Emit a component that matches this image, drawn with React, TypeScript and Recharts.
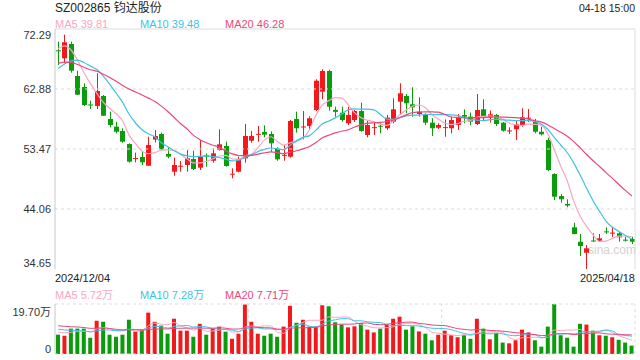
import React from "react";
import { Bar, Cell, ComposedChart, Line, ReferenceLine, XAxis, YAxis } from "recharts";

const RED = "#f2191c";
const GREEN = "#0b9c0b";
const MA5_C = "#f9a6c2";
const MA10_C = "#3ec4e2";
const MA20_C = "#e8487e";
const FONT = '"Liberation Sans", Arial, "Noto Sans CJK SC", sans-serif';

// daily candles 2024/12/04 .. 2025/04/18 (90 sessions)
const opens = [
  68.95, 67.69, 69.94, 64.92, 63.19, 60.45, 60.21, 61.78, 58.17, 56.98,
  56.29, 54.25, 51.95, 52.22, 50.85, 54.95, 55.82, 52.7, 49.91, 50.75,
  50.96, 51.9, 50.54, 52.48, 51.63, 53.31, 53.94, 49.5, 49.91, 52.01,
  54.77, 55.75, 56.14, 55.82, 53.47, 52.48, 52.27, 58.17, 56.92, 57.08,
  59.59, 62.46, 65.7, 59.6, 59.16, 57.5, 58.02, 59.43, 55.67, 56.82,
  57.12, 56.72, 57.76, 60.89, 61.78, 60.48, 58.96, 58.8, 57.6, 56.8,
  56.82, 56.72, 57.23, 58.8, 58.54, 57.39, 59.7, 58.4, 58.8, 57.6,
  56.3, 56.56, 57.23, 58.28, 57.76, 56.18, 54.88, 49.55, 46.1, 44.85,
  41.19, 38.93, 37.2, 39.12, 39.08, 40.55, 40.3, 40.25, 39.25, 39.35,
];
const highs = [
  70.3, 71.4, 70.3, 65.75, 63.77, 61.05, 65.34, 61.94, 59.32, 57.72,
  56.72, 54.36, 52.89, 53.05, 55.4, 56.45, 56.03, 53.74, 52.11, 51.59,
  53.31, 53.2, 54.88, 52.79, 53.58, 56.56, 54.62, 50.44, 52.27, 57.39,
  56.29, 57.08, 57.18, 56.24, 53.74, 54.1, 58.02, 59.32, 59.42, 58.6,
  64.4, 65.97, 65.9, 60.1, 60.1, 60.1, 59.6, 60.73, 58.02, 57.76,
  57.5, 58.8, 61.42, 63.77, 62.1, 63.15, 61.58, 59.07, 58.29, 57.5,
  58.12, 58.54, 58.96, 59.7, 59.2, 62.1, 61.27, 59.5, 58.96, 57.7,
  56.87, 57.9, 59.85, 59.74, 58.2, 56.97, 55.24, 49.66, 46.41, 45.58,
  41.9, 40.14, 38.41, 40.25, 40.14, 41.19, 41.19, 40.5, 39.7, 39.7,
];
const lows = [
  66.64, 66.91, 65.44, 61.94, 60.21, 59.74, 59.74, 58.65, 56.87, 55.92,
  54.46, 51.32, 51.38, 50.96, 50.8, 54.5, 53.31, 52.01, 49.28, 49.91,
  49.91, 50.17, 50.17, 50.7, 51.32, 53.2, 50.7, 48.87, 49.8, 51.32,
  54.46, 54.61, 55.3, 53.05, 51.63, 51.63, 52.1, 56.03, 54.98, 56.45,
  59.43, 61.27, 59.48, 58.54, 57.76, 57.23, 57.7, 56.18, 55.3, 55.67,
  55.93, 56.45, 57.5, 58.8, 59.07, 58.54, 58.54, 57.23, 55.51, 56.6,
  55.4, 55.93, 56.45, 57.5, 57.2, 57.23, 58.02, 57.6, 57.08, 56.2,
  55.82, 54.88, 56.97, 57.7, 55.93, 55.6, 50.0, 45.47, 45.05, 44.33,
  40.1, 36.69, 34.65, 38.93, 38.9, 40.14, 39.7, 38.93, 38.93, 38.57,
];
const closes = [
  68.85, 70.2, 65.75, 61.99, 60.37, 60.3, 62.57, 58.69, 57.23, 56.18,
  54.62, 51.48, 52.05, 51.38, 54.1, 55.5, 53.42, 52.27, 50.96, 50.85,
  52.01, 50.33, 52.27, 52.27, 52.79, 54.2, 50.8, 49.6, 51.9, 55.51,
  55.51, 55.85, 55.72, 54.36, 51.85, 52.55, 57.86, 56.72, 57.0, 58.29,
  64.18, 65.7, 60.1, 59.3, 58.02, 58.8, 59.43, 56.29, 57.23, 56.9,
  57.05, 58.38, 59.7, 62.2, 60.64, 60.01, 59.32, 57.6, 56.72, 57.23,
  56.9, 58.02, 58.44, 58.54, 57.76, 59.59, 58.54, 58.9, 57.39, 56.34,
  56.38, 57.34, 58.44, 58.38, 56.18, 55.77, 50.17, 45.99, 45.58, 44.6,
  40.14, 38.26, 37.9, 39.05, 39.46, 40.5, 40.36, 39.62, 39.2, 38.93,
];
// volume, 万手
const volumes = [
  7.6, 7.2, 10.0, 10.0, 10.0, 6.4, 13.1, 12.7, 7.6, 6.8,
  7.6, 13.5, 8.9, 9.6, 16.3, 12.7, 11.2, 8.0, 13.9, 9.2,
  9.2, 6.8, 11.9, 7.6, 10.0, 10.8, 8.8, 6.0, 8.0, 19.5,
  12.7, 8.0, 7.2, 8.0, 6.8, 10.8, 19.0, 12.3, 13.5, 10.8,
  10.8, 19.2, 18.8, 12.5, 11.6, 10.5, 10.9, 12.2, 9.6, 8.5,
  10.0, 11.6, 13.9, 14.7, 9.6, 10.9, 8.9, 8.0, 5.4, 7.6,
  9.2, 7.4, 6.6, 7.4, 6.0, 13.9, 10.0, 5.8, 8.3, 4.5,
  4.2, 5.4, 9.6, 8.5, 5.4, 2.9, 10.8, 19.7, 7.4, 6.4,
  2.9, 11.9, 11.6, 9.2, 7.4, 7.2, 6.6, 5.6, 4.5, 3.3,
];
// sessions before the window, only feeding the moving averages
const prevCloses = [66, 67, 68.5, 69, 68, 67.5, 68, 67.5, 68, 67.5, 63, 61, 60.9, 64, 66, 68, 69, 70, 70.2];
const prevVolumes = [12, 13, 12, 14, 13, 12, 11, 12, 13, 13, 10, 11, 12, 11, 10, 9, 9, 8, 10];

const priceTicks = [34.65, 44.06, 53.47, 62.88, 72.29];
const volTicks = [0, 19.7];
const dateLabels = ["2024/12/04", "2025/04/18"];
const priceLegend = [
  { name: "MA5", value: "39.81", color: MA5_C, left: 55 },
  { name: "MA10", value: "39.48", color: MA10_C, left: 140 },
  { name: "MA20", value: "46.28", color: MA20_C, left: 225 },
];
const volLegend = [
  { name: "MA5", value: "5.72万", color: MA5_C, left: 55 },
  { name: "MA10", value: "7.28万", color: MA10_C, left: 140 },
  { name: "MA20", value: "7.71万", color: MA20_C, left: 225 },
];

const LEAD = prevCloses.length;
function movingAvg(all: number[], n: number) {
  return closes.map((_, k) => {
    let s = 0;
    for (let j = k + LEAD - n + 1; j <= k + LEAD; j++) s += all[j];
    return s / n;
  });
}
const allC = [...prevCloses, ...closes];
const allV = [...prevVolumes, ...volumes];
const ma5 = movingAvg(allC, 5), ma10 = movingAvg(allC, 10), ma20 = movingAvg(allC, 20);
const vma5 = movingAvg(allV, 5), vma10 = movingAvg(allV, 10), vma20 = movingAvg(allV, 20);

const rows = closes.map((c, i) => ({
  i, o: opens[i], h: highs[i], l: lows[i], c,
  range: [lows[i], highs[i]],
  ma5: ma5[i], ma10: ma10[i], ma20: ma20[i],
  v: volumes[i], up: c >= opens[i],
  vma5: vma5[i], vma10: vma10[i], vma20: vma20[i],
}));

function Candle(props: any) {
  const { x, y, width, height, payload } = props;
  const { o, h, l, c } = payload;
  const top = Math.min(y, y + height);
  const span = Math.abs(height);
  const k = h > l ? span / (h - l) : 0;
  const py = (v: number) => top + (h - v) * k;
  const color = c >= o ? RED : GREEN;
  const bx = Math.round(x);
  const bTop = py(Math.max(o, c));
  const bBot = py(Math.min(o, c));
  return (
    <g>
      <line x1={bx + 2.5} x2={bx + 2.5} y1={top} y2={top + span} stroke={color} strokeWidth={1} />
      <rect x={bx} y={bTop} width={5} height={Math.max(1, bBot - bTop)} fill={color} />
    </g>
  );
}

function PriceTick({ x, y, payload }: any) {
  const v = payload.value;
  const dy = v === priceTicks[priceTicks.length - 1] ? 6 : v === priceTicks[0] ? -6 : 0;
  return (
    <text x={x} y={y + dy} dy={4} textAnchor="end" fontSize={11} fill="#333" fontFamily={FONT}>
      {v.toFixed(2)}
    </text>
  );
}

function VolTick({ x, y, payload }: any) {
  const v = payload.value;
  const top = v === volTicks[volTicks.length - 1];
  return (
    <text x={x} y={y + (top ? 8 : -5)} dy={4} textAnchor="end" fontSize={11} fill="#333" fontFamily={FONT}>
      {top ? `${v.toFixed(2)}万` : "0"}
    </text>
  );
}

const txt = (extra: React.CSSProperties): React.CSSProperties => ({
  position: "absolute", fontSize: 11, lineHeight: "12px", whiteSpace: "nowrap", ...extra,
});

export default function App() {
  const grid = "#dcdcdc";
  return (
    <div style={{ position: "absolute", left: 0, top: 0, width: 640, height: 360, background: "#fff", fontFamily: FONT, overflow: "hidden" }}>
      <div style={txt({ left: 55, top: 1, fontSize: 12, lineHeight: "14px", color: "#222" })}>SZ002865 钧达股份</div>
      <div style={txt({ right: 5, top: 2, fontSize: 10.5, color: "#222" })}>04-18 15:00</div>
      {priceLegend.map((m) => (
        <div key={m.name} style={txt({ left: m.left, top: 18, color: m.color })}>{m.name} {m.value}</div>
      ))}
      <div style={txt({ left: 588, top: 244, fontSize: 12, color: "#d2d2d2" })}>sina.com</div>

      <div style={{ position: "absolute", left: 0, top: 0 }}>
        <ComposedChart width={640} height={270} data={rows} margin={{ top: 29, right: 5, bottom: 1, left: 0 }}>
          <XAxis type="number" dataKey="i" domain={[-0.5, 89.5]} hide />
          <YAxis
            domain={[priceTicks[0], priceTicks[priceTicks.length - 1]]}
            ticks={priceTicks}
            interval={0}
            allowDataOverflow
            width={55}
            tickSize={0}
            tickMargin={4}
            tickLine={false}
            axisLine={{ stroke: "#c8c8c8" }}
            tick={<PriceTick />}
          />
          {priceTicks.slice(1, -1).map((t) => (
            <ReferenceLine key={t} y={t} stroke={grid} strokeDasharray="3 3" />
          ))}
          <ReferenceLine y={priceTicks[priceTicks.length - 1]} stroke={grid} />
          <ReferenceLine x={89.5} stroke={grid} />
          <Bar dataKey="range" barSize={5} shape={<Candle />} isAnimationActive={false} />
          <Line type="monotone" dataKey="ma5" stroke={MA5_C} strokeWidth={1.2} dot={false} isAnimationActive={false} />
          <Line type="monotone" dataKey="ma10" stroke={MA10_C} strokeWidth={1.2} dot={false} isAnimationActive={false} />
          <Line type="monotone" dataKey="ma20" stroke={MA20_C} strokeWidth={1.2} dot={false} isAnimationActive={false} />
        </ComposedChart>
      </div>

      <div style={txt({ left: 55, top: 272, color: "#222" })}>{dateLabels[0]}</div>
      <div style={txt({ right: 5, top: 272, color: "#222" })}>{dateLabels[1]}</div>
      {volLegend.map((m) => (
        <div key={m.name} style={txt({ left: m.left, top: 289, color: m.color })}>{m.name} {m.value}</div>
      ))}

      <div style={{ position: "absolute", left: 0, top: 300 }}>
        <ComposedChart width={640} height={60} data={rows} margin={{ top: 4, right: 5, bottom: 6, left: 0 }}>
          <XAxis type="number" dataKey="i" domain={[-0.5, 89.5]} hide />
          <YAxis
            domain={[0, 19.7]}
            ticks={volTicks}
            interval={0}
            allowDataOverflow
            width={55}
            tickSize={0}
            tickMargin={4}
            tickLine={false}
            axisLine={{ stroke: "#c8c8c8" }}
            tick={<VolTick />}
          />
          <ReferenceLine y={19.7} stroke={grid} strokeDasharray="3 3" />
          <ReferenceLine y={0} stroke={grid} strokeDasharray="3 3" />
          {[29.5, 59.5, 89.5].map((xv) => (
            <ReferenceLine key={xv} x={xv} stroke={grid} strokeDasharray="3 3" />
          ))}
          <Bar dataKey="v" barSize={4} isAnimationActive={false}>
            {rows.map((r) => (
              <Cell key={r.i} fill={r.up ? RED : GREEN} />
            ))}
          </Bar>
          <Line type="monotone" dataKey="vma5" stroke={MA5_C} strokeWidth={1} dot={false} isAnimationActive={false} />
          <Line type="monotone" dataKey="vma10" stroke={MA10_C} strokeWidth={1} dot={false} isAnimationActive={false} />
          <Line type="monotone" dataKey="vma20" stroke={MA20_C} strokeWidth={1} dot={false} isAnimationActive={false} />
        </ComposedChart>
      </div>
    </div>
  );
}
